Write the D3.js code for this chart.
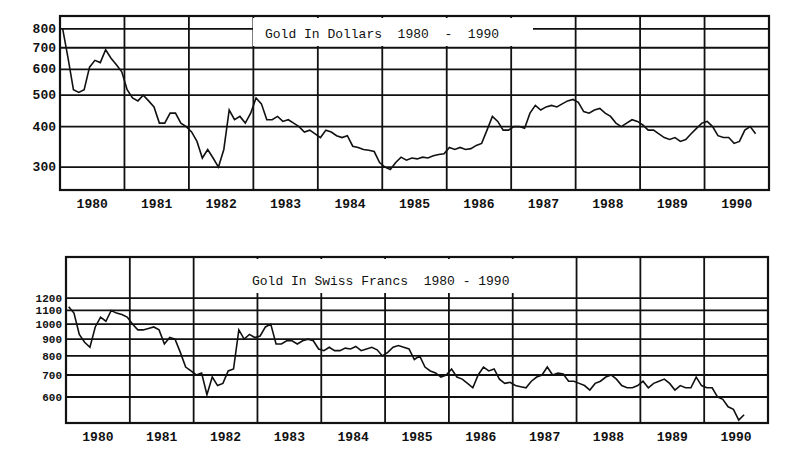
<!DOCTYPE html>
<html>
<head>
<meta charset="utf-8">
<script src="https://cdn.jsdelivr.net/npm/d3@7"></script>
<style>
  body { margin: 0; background: #fff; }
  text { font-family: "Liberation Mono", "DejaVu Sans Mono", monospace; fill: #111; }
</style>
</head>
<body>
<svg id="chart" width="793" height="451"></svg>
<script>
// monthly closes, Jan 1980 onward
const years = ["1980","1981","1982","1983","1984","1985","1986","1987","1988","1989","1990"];

const dollarValues = [
  800,650,520,510,520,610,640,630,690,650,620,590,
  520,490,480,500,480,460,410,410,440,440,410,400,
  385,360,320,340,320,300,340,450,420,430,410,440,
  490,470,420,420,430,415,420,410,400,385,390,380,
  370,390,385,375,370,375,348,345,340,338,335,310,
  300,295,310,322,315,320,318,322,320,325,328,330,
  345,340,345,340,342,350,355,390,430,415,390,390,
  400,400,395,440,465,450,460,465,460,470,480,485,
  475,445,440,450,455,440,430,410,400,410,420,415,
  405,390,390,380,370,365,370,360,365,380,395,410,
  415,400,375,370,370,355,360,390,400,380
];
const dollarTicks = [300,400,500,600,700,800];

const francValues = [
  1130,1080,930,880,850,980,1050,1020,1100,1080,1070,1050,
  1000,960,960,970,980,960,870,910,900,820,740,720,
  700,710,610,690,650,660,720,730,960,900,930,910,
  920,980,1000,870,870,890,890,870,890,900,890,840,
  830,850,830,830,845,840,855,830,840,850,835,800,
  820,850,860,850,840,780,800,740,720,710,690,700,
  730,690,680,660,640,700,740,720,730,680,660,665,
  650,645,640,670,690,700,740,700,710,705,670,670,
  660,650,630,660,670,690,700,680,650,640,640,650,
  670,640,660,670,680,660,630,650,640,640,690,650,
  640,640,600,590,560,550,510,530
];
const francTicks = [600,700,800,900,1000,1100,1200];

const svg = d3.select("#chart");

function panel(cfg){
  const g = svg.append("g");
  const x = d3.scaleLinear().domain([1980, 1991]).range([cfg.left, cfg.right]);
  const y = d3.scaleLog().domain(cfg.domain).range([cfg.bottom, cfg.top]);

  g.selectAll(".hg").data(cfg.ticks).enter().append("line")
    .attr("x1", cfg.left).attr("x2", cfg.right)
    .attr("y1", d => y(d)).attr("y2", d => y(d))
    .attr("stroke", "#111").attr("stroke-width", 1.8);

  g.selectAll(".vg").data(d3.range(1981, 1991)).enter().append("line")
    .attr("x1", d => x(d)).attr("x2", d => x(d))
    .attr("y1", cfg.top).attr("y2", cfg.bottom)
    .attr("stroke", "#111").attr("stroke-width", 1.8);

  // title with blanked backing
  g.append("rect").attr("x", cfg.titleX - 12).attr("y", cfg.top + 2)
    .attr("width", cfg.titleW).attr("height", cfg.titleY - cfg.top + 6).attr("fill", "#fff");
  g.append("text").attr("x", cfg.titleX).attr("y", cfg.titleY)
    .attr("font-size", 13).attr("xml:space", "preserve").text(cfg.title);

  g.append("rect").attr("x", cfg.left).attr("y", cfg.top)
    .attr("width", cfg.right - cfg.left).attr("height", cfg.bottom - cfg.top)
    .attr("fill", "none").attr("stroke", "#111").attr("stroke-width", 2.2);

  const line = d3.line().x((d, i) => x(1980 + i / 12 + 1 / 24)).y(d => y(d));
  g.append("path").datum(cfg.values).attr("d", line)
    .attr("fill", "none").attr("stroke", "#111").attr("stroke-width", 1.6);

  g.selectAll(".yl").data(cfg.ticks).enter().append("text")
    .attr("x", cfg.left - 4).attr("y", d => y(d) + 4)
    .attr("text-anchor", "end").attr("font-size", cfg.labelSize).attr("font-weight", "bold")
    .text(d => d);

  g.selectAll(".xl").data(years).enter().append("text")
    .attr("x", d => x(+d + 0.5)).attr("y", cfg.bottom + 18)
    .attr("text-anchor", "middle").attr("font-size", 13).attr("font-weight", "bold")
    .text(d => d);
}

panel({
  left: 60, right: 769, top: 16, bottom: 190,
  domain: [255, 877], ticks: dollarTicks, values: dollarValues, labelSize: 13,
  title: "Gold In Dollars  1980  -  1990", titleX: 265, titleY: 38, titleW: 280
});

panel({
  left: 66, right: 768, top: 257, bottom: 423,
  domain: [500, 1600], ticks: francTicks, values: francValues, labelSize: 11,
  title: "Gold In Swiss Francs  1980 - 1990", titleX: 252, titleY: 285, titleW: 305
});
</script>
</body>
</html>
